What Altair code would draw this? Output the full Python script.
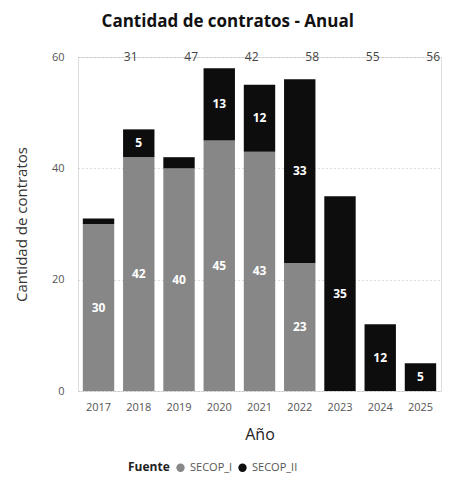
import altair as alt
import pandas as pd

years = ["2017", "2018", "2019", "2020", "2021", "2022", "2023", "2024", "2025"]
secop_i = [30, 42, 40, 45, 43, 23, 0, 0, 0]
secop_ii = [1, 5, 2, 13, 12, 33, 35, 12, 5]
fuentes = ["SECOP_I", "SECOP_II"]
totals = [31, 47, 42, 58, 55, 56]
total_slots = ["t1", "t2", "t3", "t4", "t5", "t6"]

rows = []
for yr, a, b in zip(years, secop_i, secop_ii):
    rows.append({"year": yr, "fuente": fuentes[0], "value": a, "order": 0})
    rows.append({"year": yr, "fuente": fuentes[1], "value": b, "order": 1})
df = pd.DataFrame(rows)
tot_df = pd.DataFrame({"slot": total_slots, "total": totals, "level": [60] * len(totals)})

FONT = "Open Sans"

x = alt.X(
    "year:N", title="Año", sort=years,
    scale=alt.Scale(paddingInner=0.22, paddingOuter=0.12),
    axis=alt.Axis(labelAngle=0, ticks=False, domain=False, labelColor="#555",
                  labelFontSize=11, titleFontSize=16, titleColor="#222",
                  titleFontWeight="normal", labelPadding=10, titlePadding=14),
)
yscale = alt.Scale(domain=[0, 60])

base = alt.Chart(df)

bars = base.mark_bar().encode(
    x=x,
    y=alt.Y("value:Q", stack="zero", title="Cantidad de contratos", scale=yscale,
            axis=alt.Axis(values=[0, 20, 40, 60], ticks=False, domain=False, grid=True,
                          gridDash=[1, 3], gridColor="#bbbbbb", labelColor="#555",
                          labelFontSize=11, titleFontSize=15, titleColor="#333",
                          titleFontWeight="normal", labelPadding=14, titlePadding=22)),
    color=alt.Color("fuente:N",
                    scale=alt.Scale(domain=fuentes, range=["#878787", "#0d0d0d"]),
                    legend=alt.Legend(title="Fuente", orient="none", legendX=50, legendY=405,
                                      direction="horizontal", titleOrient="left",
                                      symbolType="circle", symbolSize=70, titleFontSize=12,
                                      titleFontWeight="bold", titleColor="#222",
                                      labelFontSize=11, labelColor="#555", columnPadding=4)),
    order=alt.Order("order:Q"),
)

labels = base.transform_stack(
    stack="value", groupby=["year"], as_=["y0", "y1"], sort=[alt.SortField("order")]
).transform_calculate(
    mid="(datum.y0 + datum.y1) / 2"
).transform_filter(
    "datum.value >= 3"
).mark_text(color="white", fontWeight="bold", fontSize=12, font=FONT).encode(
    x=alt.X("year:N", sort=years),
    y=alt.Y("mid:Q", scale=yscale),
    text=alt.Text("value:Q"),
)

tops = alt.Chart(tot_df).mark_text(color="#444", fontSize=12, font=FONT).encode(
    x=alt.X("slot:N", sort=total_slots,
            scale=alt.Scale(type="point", padding=0.5, align=0.87), axis=None),
    y=alt.Y("level:Q", scale=yscale),
    text=alt.Text("total:Q"),
)

inner = alt.layer(bars, labels)

chart = alt.layer(inner, tops).resolve_scale(x="independent").properties(
    width=363, height=334,
    title=alt.TitleParams("Cantidad de contratos - Anual", fontSize=17, fontWeight="bold",
                          anchor="middle", frame="bounds", color="#111", font=FONT, offset=20),
    padding={"left": 6, "top": 5, "right": 5, "bottom": 5},
).configure_view(stroke=None).configure(font=FONT)

chart.save("out.html", embed_options={"renderer": "svg", "actions": False})
